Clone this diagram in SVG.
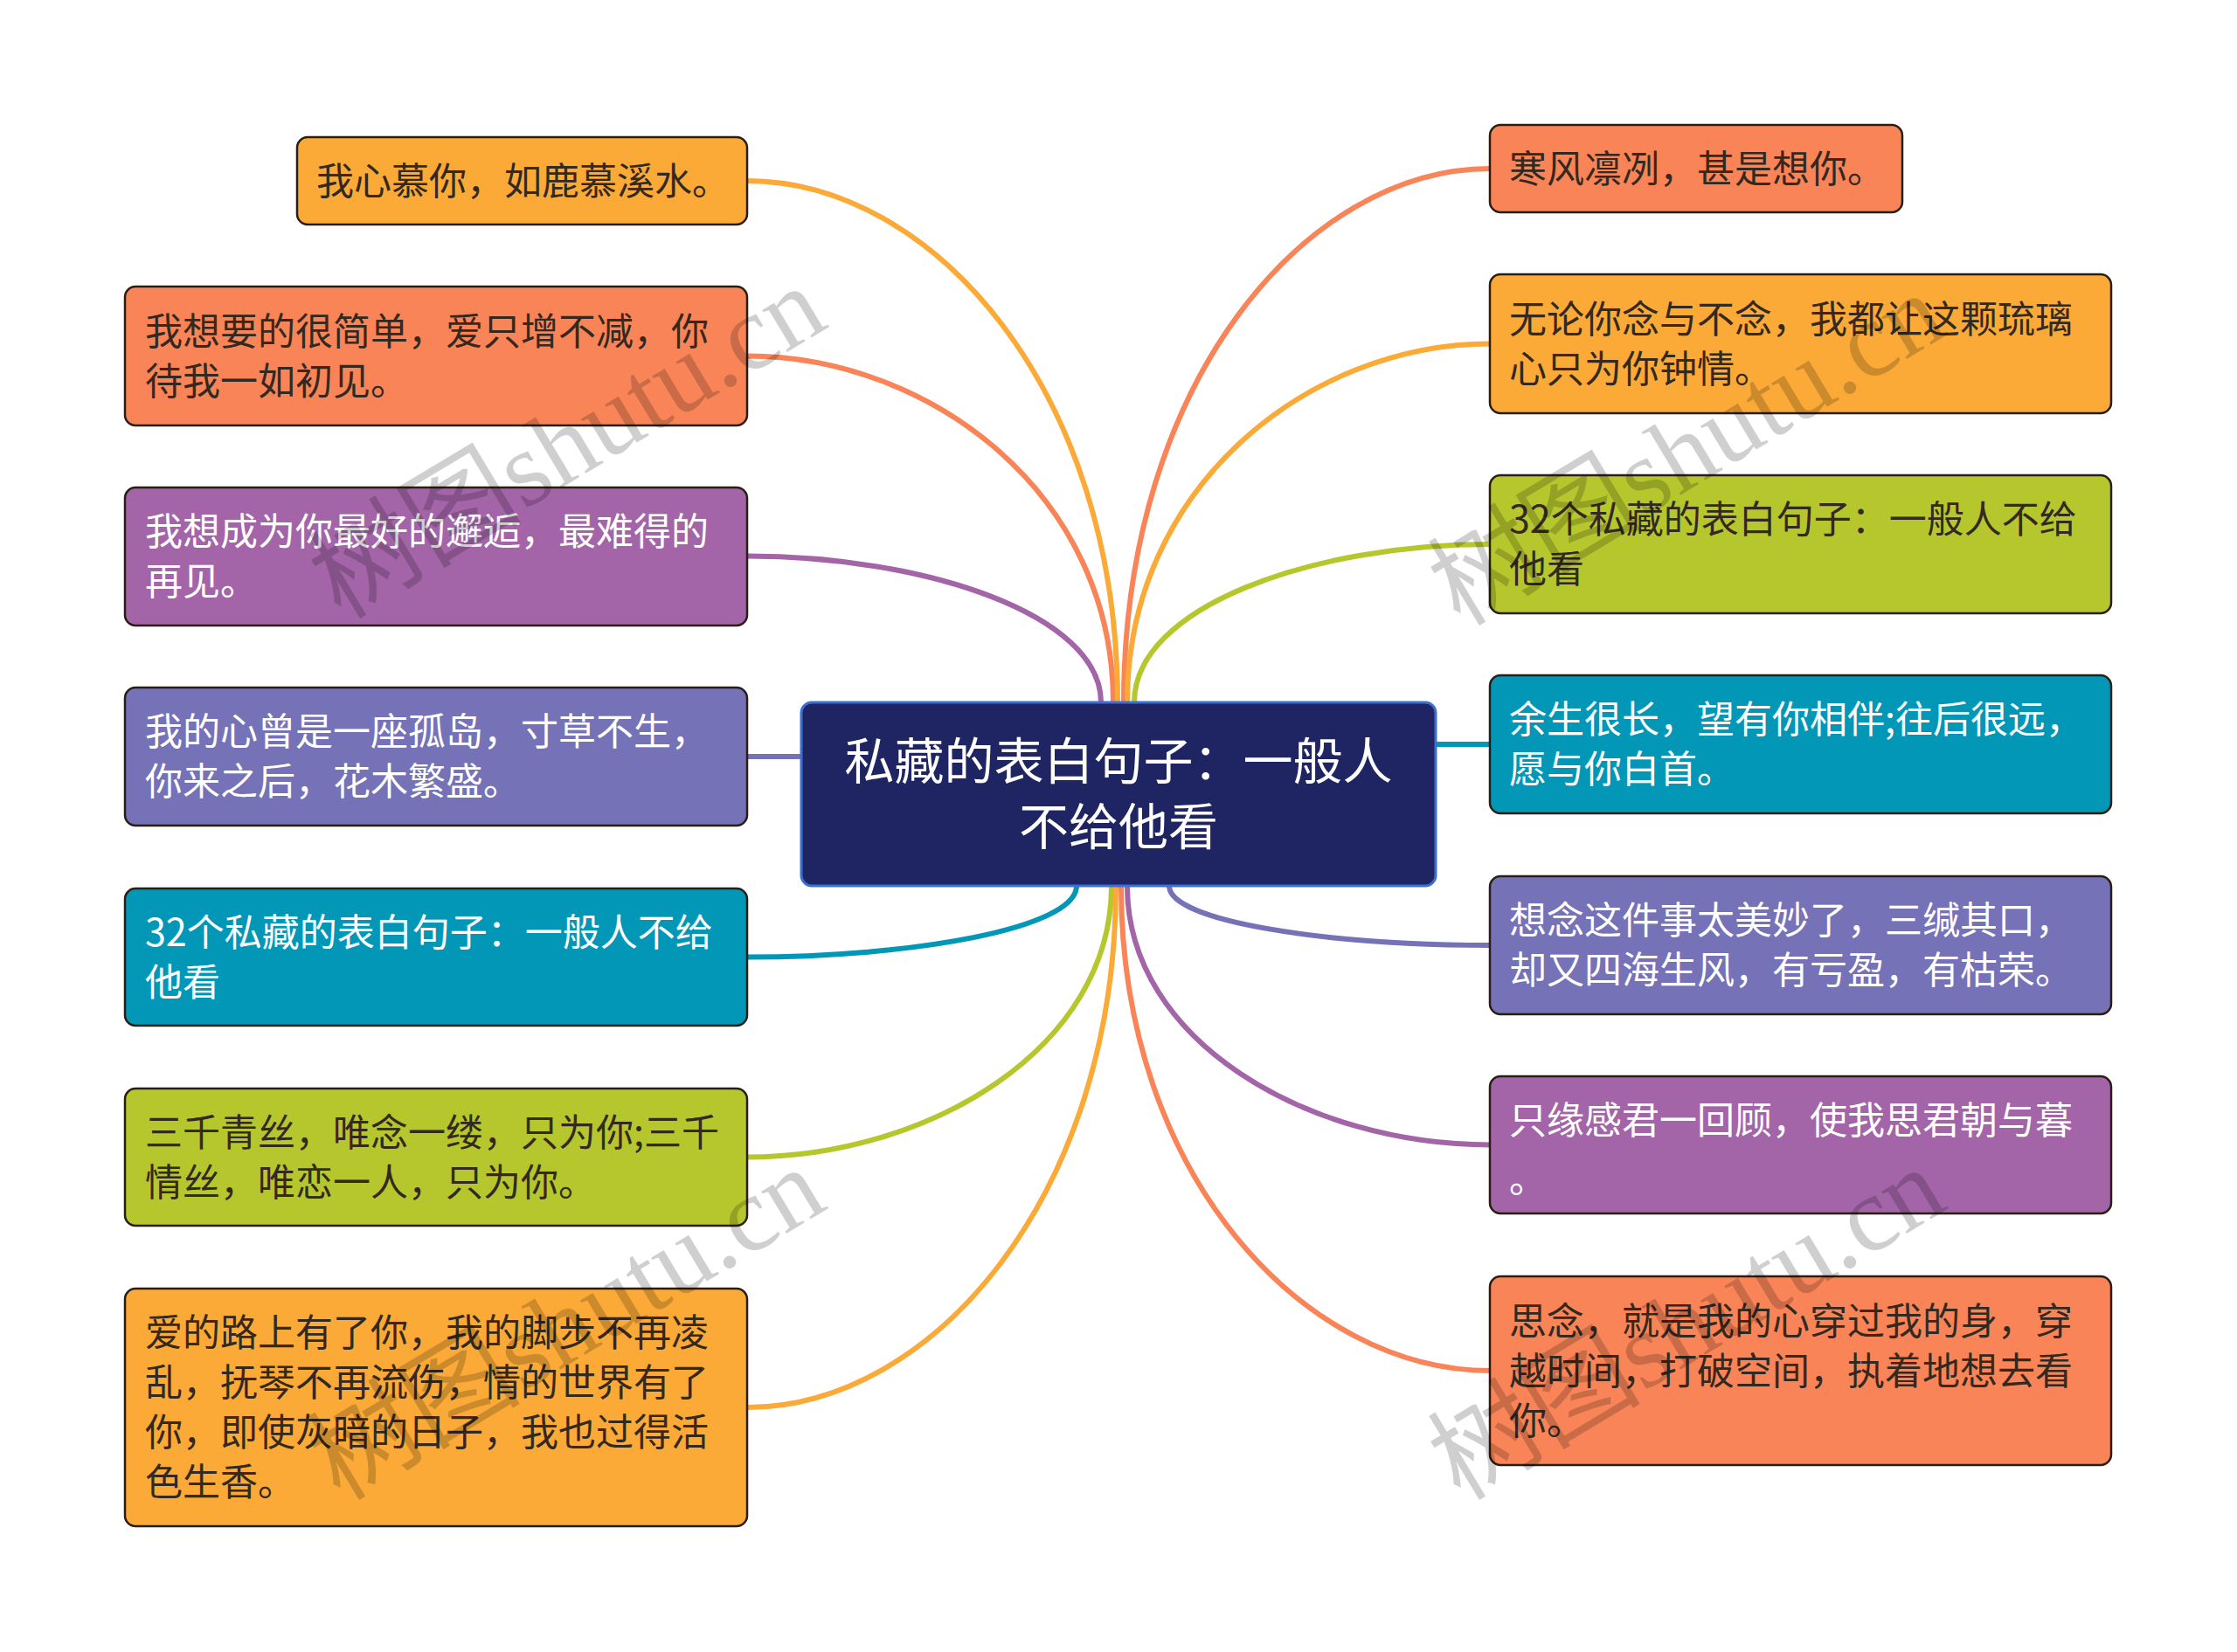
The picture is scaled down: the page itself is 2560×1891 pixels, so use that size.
<svg xmlns="http://www.w3.org/2000/svg" width="2560" height="1891" viewBox="0 0 2560 1891">
<style>
.n{stroke:#2a1e14;stroke-width:2.5}
.t{font-family:"Noto Sans CJK SC","Noto Sans",sans-serif;font-size:43px;dominant-baseline:central}
.dk{fill:#33291f}
.wt{fill:#ffffff}
.c{fill:none;stroke-width:6;stroke-linecap:round}
.or{fill:#fbaa37}.co{fill:#f98458}.pu{fill:#a365a8}.bp{fill:#7572b8}.te{fill:#0397b7}.gr{fill:#b6c72e}
.sor{stroke:#fbaa37}.sco{stroke:#f98458}.spu{stroke:#a365a8}.sbp{stroke:#7572b8}.ste{stroke:#0397b7}.sgr{stroke:#b6c72e}
.wm{font-family:"Liberation Serif","Noto Sans CJK SC",serif;font-size:122px;fill:#000;fill-opacity:0.19}
</style>
<rect width="2560" height="1891" fill="#ffffff"/>
<g id="connectors">
<path class="c sco" d="M1274,830 L1274,804 C1274,566 1065,407.5 855,407.5"/>
<path class="c sor" d="M1279,830 L1279,804 C1279,446 1067,207 855,207"/>
<path class="c spu" d="M1260,830 L1260,804 C1260,703 1057,636.5 855,636.5"/>
<path class="c sbp" d="M930,866 L855,866"/>
<path class="c sco" d="M1286,830 L1286,804 C1286,437 1495,193 1705,193"/>
<path class="c sor" d="M1290,830 L1290,804 C1290,558 1497,393.5 1705,393.5"/>
<path class="c sgr" d="M1298,830 L1298,804 C1298,695 1501,623 1705,623"/>
<path class="c ste" d="M1630,852 L1705,852"/>
<path class="c ste" d="M1232,990 L1232,1014 C1232,1063 1043,1095.5 855,1095.5"/>
<path class="c sgr" d="M1272,990 L1272,1014 C1272,1200 1063,1324.5 855,1324.5"/>
<path class="c sor" d="M1277,990 L1277,1014 C1277,1370 1066,1611 855,1611"/>
<path class="c sco" d="M1283,990 L1283,1014 C1283,1347 1494,1569 1705,1569"/>
<path class="c spu" d="M1290,990 L1290,1014 C1290,1192 1497,1310.5 1705,1310.5"/>
<path class="c sbp" d="M1338,990 L1338,1014 C1338,1055 1521,1082 1705,1082"/>
</g>
<g id="root">
<rect x="917" y="804" width="726" height="210" rx="12" fill="#1f2562" stroke="#3b6fd6" stroke-width="3"/>
<text class="t wt" x="1280" y="867" text-anchor="middle" style="font-size:57px">私藏的表白句子：一般人</text>
<text class="t wt" x="1280" y="942" text-anchor="middle" style="font-size:57px">不给他看</text>
</g>
<g id="L1">
<rect class="n or" x="340" y="157" width="515" height="100" rx="12"/>
<text class="t dk" x="362" y="204">我心慕你，如鹿慕溪水。</text>
</g>
<g id="L2">
<rect class="n co" x="143" y="328" width="712" height="159" rx="12"/>
<text class="t dk" x="166" y="376">我想要的很简单，爱只增不减，你</text>
<text class="t dk" x="166" y="433">待我一如初见。</text>
</g>
<g id="L3">
<rect class="n pu" x="143" y="558" width="712" height="158" rx="12"/>
<text class="t wt" x="166" y="605">我想成为你最好的邂逅，最难得的</text>
<text class="t wt" x="166" y="662">再见。</text>
</g>
<g id="L4">
<rect class="n bp" x="143" y="787" width="712" height="158" rx="12"/>
<text class="t wt" x="166" y="834">我的心曾是一座孤岛，寸草不生，</text>
<text class="t wt" x="166" y="891">你来之后，花木繁盛。</text>
</g>
<g id="L5">
<rect class="n te" x="143" y="1017" width="712" height="157" rx="12"/>
<text class="t wt" x="166" y="1064">32个私藏的表白句子：一般人不给</text>
<text class="t wt" x="166" y="1121">他看</text>
</g>
<g id="L6">
<rect class="n gr" x="143" y="1246" width="712" height="157" rx="12"/>
<text class="t dk" x="166" y="1293">三千青丝，唯念一缕，只为你;三千</text>
<text class="t dk" x="166" y="1350">情丝，唯恋一人，只为你。</text>
</g>
<g id="L7">
<rect class="n or" x="143" y="1475" width="712" height="272" rx="12"/>
<text class="t dk" x="166" y="1522">爱的路上有了你，我的脚步不再凌</text>
<text class="t dk" x="166" y="1579">乱，抚琴不再流伤，情的世界有了</text>
<text class="t dk" x="166" y="1636">你，即使灰暗的日子，我也过得活</text>
<text class="t dk" x="166" y="1693">色生香。</text>
</g>
<g id="R1">
<rect class="n co" x="1705" y="143" width="472" height="100" rx="12"/>
<text class="t dk" x="1727" y="190">寒风凛冽，甚是想你。</text>
</g>
<g id="R2">
<rect class="n or" x="1705" y="314" width="711" height="159" rx="12"/>
<text class="t dk" x="1727" y="362">无论你念与不念，我都让这颗琉璃</text>
<text class="t dk" x="1727" y="419">心只为你钟情。</text>
</g>
<g id="R3">
<rect class="n gr" x="1705" y="544" width="711" height="158" rx="12"/>
<text class="t dk" x="1727" y="591">32个私藏的表白句子：一般人不给</text>
<text class="t dk" x="1727" y="648">他看</text>
</g>
<g id="R4">
<rect class="n te" x="1705" y="773" width="711" height="158" rx="12"/>
<text class="t wt" x="1727" y="820">余生很长，望有你相伴;往后很远，</text>
<text class="t wt" x="1727" y="877">愿与你白首。</text>
</g>
<g id="R5">
<rect class="n bp" x="1705" y="1003" width="711" height="158" rx="12"/>
<text class="t wt" x="1727" y="1050">想念这件事太美妙了，三缄其口，</text>
<text class="t wt" x="1727" y="1107">却又四海生风，有亏盈，有枯荣。</text>
</g>
<g id="R6">
<rect class="n pu" x="1705" y="1232" width="711" height="157" rx="12"/>
<text class="t wt" x="1727" y="1279">只缘感君一回顾，使我思君朝与暮</text>
<text class="t wt" x="1727" y="1346">。</text>
</g>
<g id="R7">
<rect class="n co" x="1705" y="1461" width="711" height="216" rx="12"/>
<text class="t dk" x="1727" y="1509">思念，就是我的心穿过我的身，穿</text>
<text class="t dk" x="1727" y="1566">越时间，打破空间，执着地想去看</text>
<text class="t dk" x="1727" y="1623">你。</text>
</g>
<g id="watermarks">
<text class="wm" x="649" y="506" text-anchor="middle" dominant-baseline="central" transform="rotate(-31 649 506)">树图shutu.cn</text>
<text class="wm" x="1930" y="514" text-anchor="middle" dominant-baseline="central" transform="rotate(-31 1930 514)">树图shutu.cn</text>
<text class="wm" x="648" y="1515" text-anchor="middle" dominant-baseline="central" transform="rotate(-31 648 1515)">树图shutu.cn</text>
<text class="wm" x="1930" y="1515" text-anchor="middle" dominant-baseline="central" transform="rotate(-31 1930 1515)">树图shutu.cn</text>
</g>
</svg>
